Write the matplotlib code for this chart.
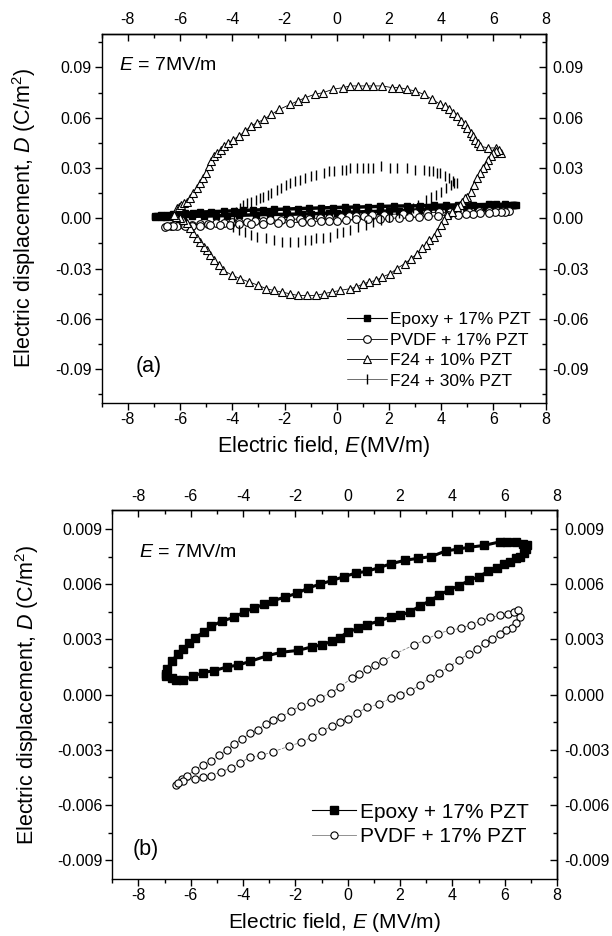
"""D-E hysteresis loops of PZT composites: (a) four composites, (b) epoxy vs PVDF zoomed."""

import matplotlib
matplotlib.use("Agg")
import matplotlib.pyplot as plt
from matplotlib.ticker import MultipleLocator, FormatStrFormatter

plt.rcParams["font.family"] = ["Liberation Sans", "DejaVu Sans"]
plt.rcParams["mathtext.fontset"] = "custom"
plt.rcParams["mathtext.rm"] = "Liberation Sans"
plt.rcParams["mathtext.it"] = "Liberation Sans:italic"
plt.rcParams["axes.unicode_minus"] = False

# Epoxy + 17% PZT: field (MV/m), displacement (C/m^2), one loop
epoxy_E = [-6.95, -6.9, -6.73, -6.5, -6.28, -6.05, -5.83, -5.5, -5.23, -4.8, -4.33, -3.95,
           -3.59, -3.2, -2.84, -2.4, -1.94, -1.5, -1.05, -0.6, -0.15, 0.3, 0.75, 1.2, 1.64,
           2.2, 2.69, 3.2, 3.74, 4.2, 4.63, 5.2, 5.83, 6.1, 6.43, 6.7, 6.85,
           6.8, 6.73, 6.6, 6.43, 6.2, 5.98, 5.7, 5.38, 5.0, 4.63, 4.25, 3.89, 3.5, 3.14,
           2.75, 2.39, 2.0, 1.64, 1.2, 0.75, 0.4, 0.0, -0.3, -0.6, -1.0, -1.35, -1.9, -2.54,
           -3.1, -3.74, -4.2, -4.63, -5.1, -5.53, -5.9, -6.28, -6.55, -6.73, -6.95]
epoxy_D = [0.0011, 0.0014, 0.0018, 0.0022, 0.0025, 0.0028, 0.0031, 0.0034, 0.0037, 0.0040,
           0.0042, 0.0045, 0.0047, 0.0049, 0.0051, 0.0053, 0.0055, 0.0058, 0.0060, 0.0062,
           0.0064, 0.0066, 0.0067, 0.0069, 0.0071, 0.0073, 0.0074, 0.0075, 0.0078, 0.0079,
           0.0080, 0.0081, 0.0083, 0.0083, 0.0083, 0.0082, 0.0081,
           0.0079, 0.0077, 0.0075, 0.0074, 0.0072, 0.0071, 0.0069, 0.0067, 0.0064, 0.0062,
           0.0059, 0.0057, 0.0054, 0.0051, 0.0048, 0.0045, 0.0043, 0.0042, 0.0040, 0.0038,
           0.0036, 0.0034, 0.0031, 0.0029, 0.0027, 0.0026, 0.0024, 0.0023, 0.0021, 0.0018,
           0.0016, 0.0015, 0.0013, 0.0012, 0.0010, 0.0008, 0.0008, 0.0009, 0.0010]

# PVDF + 17% PZT
pvdf_E = [-6.58, -6.35, -6.13, -5.85, -5.53, -5.23, -4.93, -4.63, -4.33, -4.03, -3.74, -3.44,
          -3.14, -2.84, -2.54, -2.15, -1.79, -1.4, -1.05, -0.65, -0.3, 0.15, 0.45, 0.75, 1.05,
          1.35, 1.79, 2.54, 3.0, 3.44, 3.9, 4.33, 4.7, 5.08, 5.45, 5.83, 6.13, 6.35, 6.5,
          6.58, 6.45, 6.28, 6.05, 5.83, 5.5, 5.23, 4.95, 4.63, 4.25, 3.89, 3.5, 3.14, 2.75,
          2.39, 2.0, 1.64, 1.2, 0.75, 0.35, 0.0, -0.3, -0.6, -1.0, -1.35, -1.8, -2.24, -2.84,
          -3.3, -3.74, -4.1, -4.48, -4.85, -5.23, -5.53, -5.83, -6.28, -6.5]
pvdf_D = [-0.0049, -0.0046, -0.0044, -0.0041, -0.0038, -0.0036, -0.0033, -0.0030, -0.0027,
          -0.0024, -0.0021, -0.0019, -0.0016, -0.0014, -0.0012, -0.0009, -0.0006, -0.0004,
          -0.0002, 0.0001, 0.0004, 0.0009, 0.0011, 0.0014, 0.0016, 0.0018, 0.0022, 0.0027,
          0.0030, 0.0033, 0.0035, 0.0036, 0.0038, 0.0040, 0.0042, 0.0043, 0.0044, 0.0045,
          0.0046,
          0.0042, 0.0039, 0.0036, 0.0035, 0.0033, 0.0030, 0.0028, 0.0025, 0.0022, 0.0019,
          0.0015, 0.0012, 0.0009, 0.0005, 0.0002, 0.0000, -0.0002, -0.0005, -0.0007, -0.0010,
          -0.0013, -0.0015, -0.0017, -0.0020, -0.0023, -0.0026, -0.0028, -0.0031, -0.0033,
          -0.0034, -0.0037, -0.0040, -0.0042, -0.0044, -0.0045, -0.0046, -0.0047, -0.0048]

# F24 + 10% PZT
f10_E = [-6.25, -6.13, -6.05, -5.95, -5.85, -5.75, -5.62, -5.5, -5.37, -5.24, -5.12, -5.0,
         -4.9, -4.8, -4.7, -4.6, -4.45, -4.3, -4.15, -3.97, -3.75, -3.5, -3.3, -3.06, -2.8,
         -2.5, -2.2, -1.78, -1.5, -1.2, -0.85, -0.52, -0.15, 0.25, 0.5, 0.8, 1.1, 1.4, 1.75,
         2.1, 2.4, 2.69, 3.0, 3.33, 3.65, 3.97, 4.15, 4.3, 4.45, 4.61, 4.75, 4.9, 5.0, 5.12,
         5.2, 5.3, 5.4, 5.5, 5.8, 6.08, 6.3,
         6.2, 6.1, 6.0, 5.89, 5.8, 5.7, 5.6, 5.5, 5.38, 5.25, 5.12, 5.0, 4.9, 4.8, 4.7, 4.6,
         4.4, 4.23, 4.1, 4.0, 3.85, 3.72, 3.55, 3.4, 3.25, 3.08, 2.85, 2.6, 2.3, 2.05, 1.75,
         1.5, 1.25, 1.02, 0.75, 0.5, 0.14, -0.2, -0.5, -0.8, -1.14, -1.5, -1.8, -2.1, -2.42,
         -2.7, -3.0, -3.35, -3.7, -4.0, -4.34, -4.5, -4.7, -4.85, -4.98, -5.1, -5.25, -5.37,
         -5.49, -5.62, -5.75, -5.9, -6.0, -6.15, -6.25]
f10_D = [0.002, 0.006, 0.007, 0.008, 0.009, 0.010, 0.012, 0.015, 0.018, 0.021, 0.024, 0.027,
         0.031, 0.034, 0.037, 0.039, 0.041, 0.043, 0.045, 0.047, 0.049, 0.052, 0.055, 0.057,
         0.059, 0.062, 0.065, 0.068, 0.070, 0.072, 0.074, 0.075, 0.077, 0.078, 0.079, 0.079,
         0.079, 0.079, 0.079, 0.078, 0.078, 0.077, 0.076, 0.074, 0.071, 0.068, 0.067, 0.065,
         0.063, 0.061, 0.058, 0.056, 0.054, 0.051, 0.049, 0.047, 0.045, 0.043, 0.042, 0.042,
         0.039,
         0.041, 0.040, 0.039, 0.037, 0.035, 0.032, 0.030, 0.027, 0.024, 0.020, 0.016, 0.013,
         0.012, 0.010, 0.008, 0.007, 0.004, 0.002, -0.001, -0.004, -0.008, -0.011, -0.013,
         -0.016, -0.018, -0.021, -0.024, -0.027, -0.030, -0.033, -0.035, -0.037, -0.038,
         -0.039, -0.041, -0.042, -0.043, -0.044, -0.045, -0.046, -0.046, -0.046, -0.045,
         -0.044, -0.043, -0.042, -0.040, -0.038, -0.036, -0.034, -0.031, -0.028, -0.025,
         -0.022, -0.019, -0.017, -0.014, -0.012, -0.009, -0.006, -0.003, -0.001, 0.000,
         0.001, 0.002]

# F24 + 30% PZT
f30_E = [-3.95, -3.85, -3.7, -3.6, -3.45, -3.3, -3.1, -2.95, -2.82, -2.65, -2.5, -2.3, -2.15,
         -1.95, -1.78, -1.6, -1.4, -1.2, -1.0, -0.8, -0.5, -0.3, -0.1, 0.2, 0.35, 0.5, 0.78,
         1.0, 1.2, 1.4, 1.7, 2.05, 2.3, 2.7, 3.0, 3.33, 3.55, 3.7, 3.85, 3.97, 4.15, 4.3,
         4.45, 4.6,
         4.5, 4.36, 4.2, 4.0, 3.8, 3.59, 3.4, 3.1, 2.9, 2.7, 2.4, 2.0, 1.7, 1.4, 1.1, 0.8, 0.5,
         0.25, 0.0, -0.25, -0.52, -0.8, -1.0, -1.2, -1.5, -1.78, -2.1, -2.4, -2.7, -3.06,
         -3.3, -3.5, -3.75, -3.97]
f30_D = [0.001, 0.004, 0.006, 0.008, 0.009, 0.010, 0.011, 0.012, 0.013, 0.014, 0.015, 0.017,
         0.018, 0.020, 0.021, 0.022, 0.023, 0.024, 0.025, 0.026, 0.027, 0.028, 0.028, 0.029,
         0.029, 0.030, 0.030, 0.030, 0.030, 0.030, 0.031, 0.030, 0.030, 0.030, 0.029, 0.029,
         0.028, 0.028, 0.027, 0.027, 0.025, 0.024, 0.022, 0.021,
         0.021, 0.020, 0.018, 0.016, 0.014, 0.013, 0.011, 0.008, 0.006, 0.005, 0.003, 0.001,
         -0.001, -0.002, -0.004, -0.005, -0.007, -0.008, -0.009, -0.011, -0.012, -0.012,
         -0.013, -0.013, -0.014, -0.014, -0.014, -0.013, -0.012, -0.011, -0.010, -0.008,
         -0.007, -0.005]

x_ticks = [-8, -6, -4, -2, 0, 2, 4, 6, 8]
ylabel = "Electric displacement, $D$ (C/m$^2$)"


def style_axes(ax, ylim, ystep, yfmt):
    """Origin-like frame: ticks out on left/bottom, in on top/right, labels on all sides."""
    ax.set_xlim(-9, 8)
    ax.set_ylim(-ylim, ylim)
    ax.set_xticks(x_ticks)
    ax.xaxis.set_minor_locator(MultipleLocator(1))
    ax.yaxis.set_major_locator(MultipleLocator(ystep))
    ax.yaxis.set_minor_locator(MultipleLocator(ystep / 2))
    ax.yaxis.set_major_formatter(FormatStrFormatter(yfmt))
    ax.tick_params(which="both", direction="out", labelsize=11.5, width=1)
    ax.tick_params(which="major", length=5, pad=2)
    ax.tick_params(which="minor", length=3)
    for sp in ax.spines.values():
        sp.set_linewidth(1)

    top = ax.secondary_xaxis("top")
    top.set_xticks(x_ticks)
    top.xaxis.set_minor_locator(MultipleLocator(1))
    right = ax.secondary_yaxis("right")
    right.yaxis.set_major_locator(MultipleLocator(ystep))
    right.yaxis.set_minor_locator(MultipleLocator(ystep / 2))
    right.yaxis.set_major_formatter(FormatStrFormatter(yfmt))
    for sec in (top, right):
        sec.tick_params(which="both", direction="in", labelsize=11.5, width=1)
        sec.tick_params(which="major", length=5, pad=5)
        sec.tick_params(which="minor", length=3)
        for sp in sec.spines.values():
            sp.set_linewidth(1)


fig = plt.figure(figsize=(6.12, 9.36), dpi=100)
ax_a = fig.add_axes([0.1662, 0.5698, 0.7255, 0.3939])
ax_b = fig.add_axes([0.1835, 0.0612, 0.7266, 0.3934])

# ---- (a)
ax_a.plot(epoxy_E, epoxy_D, color="black", lw=2.5, marker="s", ms=5,
          mfc="black", mec="black", label="Epoxy + 17% PZT")
ax_a.plot(pvdf_E, pvdf_D, color="black", lw=0.6, marker="o", ms=5.5,
          mfc="white", mec="black", mew=0.8, label="PVDF + 17% PZT")
ax_a.plot(f10_E, f10_D, color="black", lw=0.6, marker="^", ms=6,
          mfc="white", mec="black", mew=0.8, label="F24 + 10% PZT")
ax_a.plot(f30_E, f30_D, color="black", lw=0.4, ls="none", marker="|", ms=6.5,
          mec="black", mew=1.0, label="F24 + 30% PZT")
style_axes(ax_a, 0.11, 0.03, "%.2f")
ax_a.text(0.04, 0.915, "$E$ = 7MV/m", transform=ax_a.transAxes, fontsize=14,
          va="center", ha="left")
ax_a.text(0.105, 0.097, "(a)", transform=ax_a.transAxes, fontsize=15.5,
          va="center", ha="center")
ax_a.set_xlabel("Electric field, $E$(MV/m)", fontsize=15.5)
ax_a.set_ylabel(ylabel, fontsize=15.5)
ax_a.xaxis.set_label_coords(0.5, -0.085)
ax_a.yaxis.set_label_coords(-0.143, 0.5)
# legend handles keep the connecting line so they read as —■—
handles, labels = ax_a.get_legend_handles_labels()
handles[0].set_linewidth(0.8)
handles[3].set_linestyle("-")
ax_a.legend(handles, labels, loc="lower right", bbox_to_anchor=(0.99, 0.01),
            frameon=False, fontsize=12.5, handlelength=2.3, handletextpad=0.2,
            labelspacing=0.3, borderaxespad=0.2)
handles[0].set_linewidth(2.5)
handles[3].set_linestyle("none")

# ---- (b)
ax_b.plot(epoxy_E, epoxy_D, color="black", lw=2.2, marker="s", ms=6,
          mfc="black", mec="black", label="Epoxy + 17% PZT")
ax_b.plot(pvdf_E, pvdf_D, color="#808080", lw=0.6, ls="--", marker="o", ms=5.2,
          mfc="white", mec="black", mew=0.8, label="PVDF + 17% PZT")
style_axes(ax_b, 0.010, 0.003, "%.3f")
ax_b.text(0.06, 0.885, "$E$ = 7MV/m", transform=ax_b.transAxes, fontsize=14,
          va="center", ha="left")
ax_b.text(0.075, 0.08, "(b)", transform=ax_b.transAxes, fontsize=15.5,
          va="center", ha="center")
ax_b.set_xlabel("Electric field, $E$ (MV/m)", fontsize=15)
ax_b.set_ylabel(ylabel, fontsize=15.5)
ax_b.xaxis.set_label_coords(0.5, -0.088)
ax_b.yaxis.set_label_coords(-0.16, 0.5)
hb, lb = ax_b.get_legend_handles_labels()
hb[0].set_linewidth(0.8)
hb[1].set_linestyle("-")
ax_b.legend(hb, lb, loc="lower right", bbox_to_anchor=(0.965, 0.055), frameon=False,
            fontsize=15, handlelength=2.1, handletextpad=0.2, labelspacing=0.25,
            borderaxespad=0.2)
hb[0].set_linewidth(2.2)
hb[1].set_linestyle("--")

fig.savefig("out.png", dpi=100)
